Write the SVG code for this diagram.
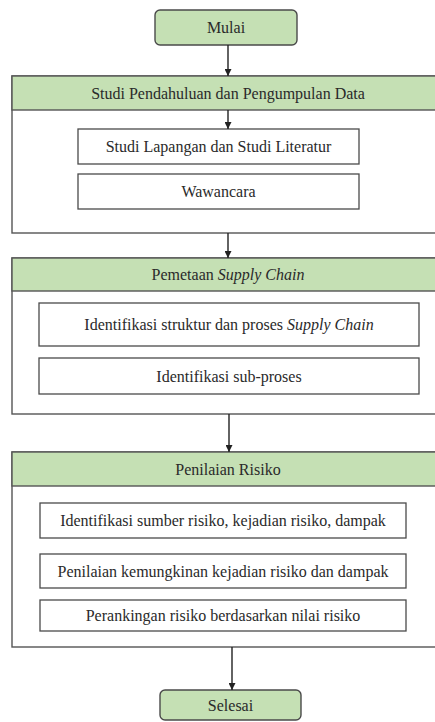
<svg xmlns="http://www.w3.org/2000/svg" width="435" height="722" viewBox="0 0 435 722">
<rect width="435" height="722" fill="#fff"/>
<defs>
<marker id="arr" viewBox="0 0 10 10" refX="10" refY="5" markerWidth="7" markerHeight="7" markerUnits="userSpaceOnUse" orient="auto">
<path d="M0,0 L10,5 L0,10 z" fill="#222222"/>
</marker>
</defs>
<g id="mulai">
<rect x="155" y="10" width="142" height="35" rx="5" fill="#c5e0b4" stroke="#4a4a4a" stroke-width="1.4"/>
<text x="226" y="33" font-family="Times New Roman" style="font-family:'Liberation Serif','Times New Roman',serif" font-size="16" fill="#2a2a2a" text-anchor="middle">Mulai</text>
</g>
<g id="sec1">
<rect x="12" y="76" width="440" height="157" fill="#ffffff" stroke="#555555" stroke-width="1.4"/>
<rect x="12" y="76" width="440" height="34" fill="#c5e0b4" stroke="#555555" stroke-width="1.4"/>
<text x="228" y="98.5" font-family="Times New Roman" style="font-family:'Liberation Serif','Times New Roman',serif" font-size="16" fill="#2a2a2a" text-anchor="middle">Studi Pendahuluan dan Pengumpulan Data</text>
</g>
<g id="sec1-box1">
<rect x="78" y="129" width="281" height="35" fill="#ffffff" stroke="#4a4a4a" stroke-width="1.3"/>
<text x="218.5" y="152" font-family="Times New Roman" style="font-family:'Liberation Serif','Times New Roman',serif" font-size="16" fill="#2a2a2a" text-anchor="middle">Studi Lapangan dan Studi Literatur</text>
</g>
<g id="sec1-box2">
<rect x="78" y="174" width="281" height="35" fill="#ffffff" stroke="#4a4a4a" stroke-width="1.3"/>
<text x="218.5" y="197" font-family="Times New Roman" style="font-family:'Liberation Serif','Times New Roman',serif" font-size="16" fill="#2a2a2a" text-anchor="middle">Wawancara</text>
</g>
<g id="sec2">
<rect x="12" y="258" width="440" height="156" fill="#ffffff" stroke="#555555" stroke-width="1.4"/>
<rect x="12" y="258" width="440" height="33" fill="#c5e0b4" stroke="#555555" stroke-width="1.4"/>
<text x="228" y="280" font-family="Times New Roman" style="font-family:'Liberation Serif','Times New Roman',serif" font-size="16" fill="#2a2a2a" text-anchor="middle">Pemetaan <tspan font-style="italic">Supply Chain</tspan></text>
</g>
<g id="sec2-box1">
<rect x="39" y="303" width="380" height="43" fill="#ffffff" stroke="#4a4a4a" stroke-width="1.3"/>
<text x="229" y="330" font-family="Times New Roman" style="font-family:'Liberation Serif','Times New Roman',serif" font-size="16" fill="#2a2a2a" text-anchor="middle">Identifikasi struktur dan proses <tspan font-style="italic">Supply Chain</tspan></text>
</g>
<g id="sec2-box2">
<rect x="39" y="358" width="380" height="36" fill="#ffffff" stroke="#4a4a4a" stroke-width="1.3"/>
<text x="229" y="381.5" font-family="Times New Roman" style="font-family:'Liberation Serif','Times New Roman',serif" font-size="16" fill="#2a2a2a" text-anchor="middle">Identifikasi sub-proses</text>
</g>
<g id="sec3">
<rect x="12" y="452" width="440" height="195" fill="#ffffff" stroke="#555555" stroke-width="1.4"/>
<rect x="12" y="452" width="440" height="34" fill="#c5e0b4" stroke="#555555" stroke-width="1.4"/>
<text x="228" y="474.5" font-family="Times New Roman" style="font-family:'Liberation Serif','Times New Roman',serif" font-size="16" fill="#2a2a2a" text-anchor="middle">Penilaian Risiko</text>
</g>
<g id="sec3-box1">
<rect x="40" y="503" width="366" height="35" fill="#ffffff" stroke="#4a4a4a" stroke-width="1.3"/>
<text x="223" y="526" font-family="Times New Roman" style="font-family:'Liberation Serif','Times New Roman',serif" font-size="16" fill="#2a2a2a" text-anchor="middle">Identifikasi sumber risiko, kejadian risiko, dampak</text>
</g>
<g id="sec3-box2">
<rect x="40" y="554" width="366" height="34" fill="#ffffff" stroke="#4a4a4a" stroke-width="1.3"/>
<text x="223" y="576.5" font-family="Times New Roman" style="font-family:'Liberation Serif','Times New Roman',serif" font-size="16" fill="#2a2a2a" text-anchor="middle">Penilaian kemungkinan kejadian risiko dan dampak</text>
</g>
<g id="sec3-box3">
<rect x="40" y="600" width="366" height="31" fill="#ffffff" stroke="#4a4a4a" stroke-width="1.3"/>
<text x="223" y="621" font-family="Times New Roman" style="font-family:'Liberation Serif','Times New Roman',serif" font-size="16" fill="#2a2a2a" text-anchor="middle">Perankingan risiko berdasarkan nilai risiko</text>
</g>
<g id="selesai">
<rect x="160" y="690" width="141" height="30" rx="5" fill="#c5e0b4" stroke="#4a4a4a" stroke-width="1.4"/>
<text x="230.5" y="710.5" font-family="Times New Roman" style="font-family:'Liberation Serif','Times New Roman',serif" font-size="16" fill="#2a2a2a" text-anchor="middle">Selesai</text>
</g>
<g id="connectors" stroke="#222222" stroke-width="1.4" fill="none" marker-end="url(#arr)">
<line x1="228" y1="45" x2="228" y2="76"/>
<line x1="228" y1="110" x2="228" y2="129"/>
<line x1="228" y1="233" x2="228" y2="258"/>
<line x1="229" y1="414" x2="229" y2="452"/>
<line x1="232" y1="647" x2="232" y2="690"/>
</g>
</svg>
